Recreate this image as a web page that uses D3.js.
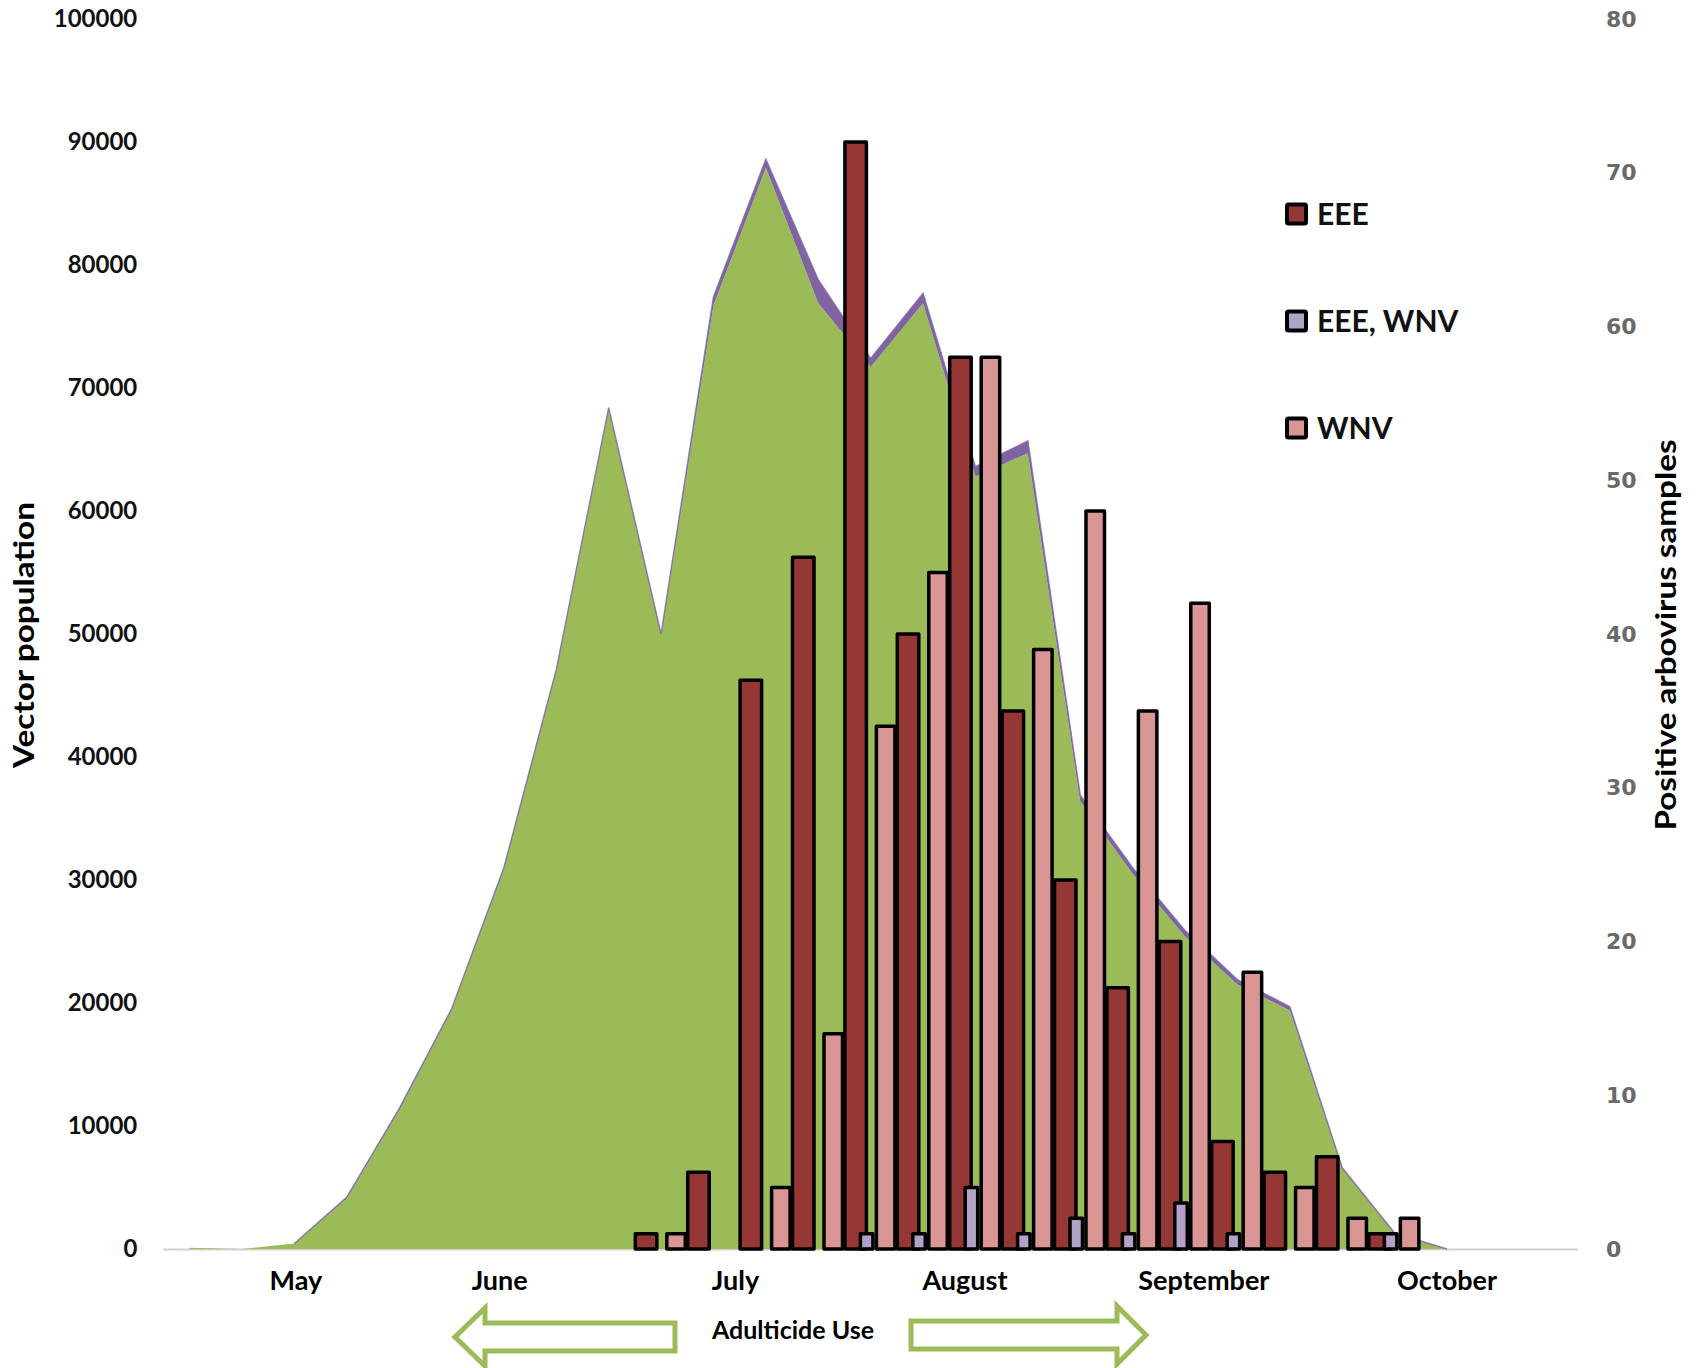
<!DOCTYPE html>
<html><head><meta charset="utf-8">
<script src="https://cdn.jsdelivr.net/npm/d3@7"></script>
<style>body{margin:0;background:#fff}svg{display:block}</style>
</head><body>
<svg id="c" width="1701" height="1368"></svg>
<script>
// ---------- DATA ----------
const weeks = ["W1","W2","W3","W4","W5","W6","W7","W8","W9","W10","W11","W12","W13","W14",
  "W15","W16","W17","W18","W19","W20","W21","W22","W23","W24","W25","W26","W27"];
// vector population (stacked area): main species + second species
const vectorMain  = [100,0,450,4100,11300,19400,30900,47000,68300,49900,76700,87900,76900,71700,
  76900,62800,64700,36400,30500,25400,21500,19400,6500,1300,0,null,null];
const vectorOther = [0,0,0,100,100,100,100,100,100,100,700,700,1900,700,
  800,800,1000,500,500,500,400,300,100,0,0,null,null];
// positive arbovirus samples
const eee    = [null,null,null,null,null,null,null,null,null,1,5,37,45,72,40,58,35,24,17,20,7,5,6,1,null,null,null];
const eeeWnv = [null,null,null,null,null,null,null,null,null,0,0,0,0,1,1,4,1,2,1,3,1,0,0,1,null,null,null];
const wnv    = [null,null,null,null,null,null,null,null,null,1,0,4,14,34,44,58,39,48,35,42,18,4,2,2,null,null,null];
const seriesNames = ["EEE","EEE, WNV","WNV"];
const leftTicks  = [0,10000,20000,30000,40000,50000,60000,70000,80000,90000,100000];
const rightTicks = [0,10,20,30,40,50,60,70,80];
const monthNames = ["May","June","July","August","September","October"];

// ---------- LAYOUT ----------
const svg = d3.select("#c");
const L = 163.3, R = 1578, T = 19, B = 1249;
const x = d3.scaleBand().domain(weeks).range([L, R]).paddingInner(0).paddingOuter(0);
const bw = x.bandwidth();
const cx = w => x(w) + bw / 2;
const yL = d3.scaleLinear().domain([0, 100000]).range([B, T]);
const yR = d3.scaleLinear().domain([0, 80]).range([B, T]);

const colors = {green:"#9BBB59", purple:"#8064A2", eee:"#953735", mix:"#B3A2C7", wnv:"#D99694"};

// baseline
svg.append("line").attr("x1", L).attr("x2", R).attr("y1", B + 0.5).attr("y2", B + 0.5)
  .attr("stroke", "#d0d0d0").attr("stroke-width", 2);

// stacked area
const rows = weeks.map((w, i) => ({w, main: vectorMain[i], other: vectorOther[i]}))
  .filter(d => d.main !== null);
const stack = d3.stack().keys(["main", "other"])(rows);
const area = d3.area().x(d => cx(d.data.w)).y0(d => yL(d[0])).y1(d => yL(d[1]));
svg.append("path").datum(stack[0]).attr("d", area).attr("fill", colors.green);
svg.append("path").datum(stack[1]).attr("d", area).attr("fill", colors.purple);
const topLine = d3.line().x(d => cx(d.data.w)).y(d => yL(d[1]));
svg.append("path").datum(stack[1].filter((d, i) => i >= 2)).attr("d", topLine)
  .attr("fill", "none").attr("stroke", colors.purple).attr("stroke-width", 1.5).attr("stroke-opacity", 0.8);

// bars (offsets relative to category centre, scaled with band width)
const k = bw / 52.41;
const barSpec = [
  {vals: eee,    fill: colors.eee, x0: -25.75, x1: -4.25},
  {vals: eeeWnv, fill: colors.mix, x0: -10.25, x1: 2.25},
  {vals: wnv,    fill: colors.wnv, x0: 5.75,  x1: 24.25}
];
barSpec.forEach(s => {
  const data = weeks.map((w, i) => ({w, v: s.vals[i]})).filter(d => d.v);
  svg.append("g").selectAll("rect").data(data).join("rect")
    .attr("x", d => cx(d.w) + s.x0 * k)
    .attr("width", (s.x1 - s.x0) * k)
    .attr("y", d => yR(d.v))
    .attr("height", d => B - yR(d.v))
    .attr("fill", s.fill).attr("stroke", "#000").attr("stroke-width", 3.5)
    .attr("stroke-linejoin", "round");
});

// axes
const gl = svg.append("g").attr("transform", `translate(${L},0)`)
  .call(d3.axisLeft(yL).tickValues(leftTicks).tickSize(0).tickPadding(26).tickFormat(d3.format("d")));
gl.select(".domain").remove();
gl.selectAll("text").attr("font-family", "Lato").attr("font-weight", 700)
  .attr("font-size", 24).attr("fill", "#111");
const gr = svg.append("g").attr("transform", `translate(${R},0)`)
  .call(d3.axisRight(yR).tickValues(rightTicks).tickSize(0).tickPadding(28).tickFormat(d3.format("d")));
gr.select(".domain").remove();
gr.selectAll("text").attr("font-family", "DejaVu Sans").attr("font-weight", 700)
  .attr("font-size", 22).attr("fill", "#6a6a6a");

// axis titles
svg.append("text").attr("transform", "translate(34,635) rotate(-90)")
  .attr("text-anchor", "middle").attr("font-family", "Lato").attr("font-weight", 700)
  .attr("font-size", 29).attr("fill", "#000")
  .attr("textLength", 266).attr("lengthAdjust", "spacingAndGlyphs")
  .text("Vector population");
svg.append("text").attr("transform", "translate(1676,635) rotate(-90)")
  .attr("text-anchor", "middle").attr("font-family", "Lato").attr("font-weight", 700)
  .attr("font-size", 29).attr("fill", "#000")
  .attr("textLength", 391).attr("lengthAdjust", "spacingAndGlyphs")
  .text("Positive arbovirus samples");

// month labels (anchored at fractional week positions)
const monthAt = [2.03, 5.92, 10.42, 14.8, 19.36, 24.0];
const monthX = d3.scaleLinear().domain([0, 1]).range([cx(weeks[0]), cx(weeks[1])]);
svg.append("g").selectAll("text").data(monthNames).join("text")
  .attr("x", (d, i) => monthX(monthAt[i])).attr("y", 1290)
  .attr("text-anchor", "middle").attr("font-family", "Lato").attr("font-weight", 700)
  .attr("font-size", 27).attr("fill", "#000").text(d => d);

// legend
const legY = [214, 321, 428];
const legFill = [colors.eee, colors.mix, colors.wnv];
const lg = svg.append("g");
seriesNames.forEach((n, i) => {
  lg.append("rect").attr("x", 1287).attr("y", legY[i] - 9.5).attr("width", 19).attr("height", 19)
    .attr("fill", legFill[i]).attr("stroke", "#000").attr("stroke-width", 4).attr("rx", 1.5);
  lg.append("text").attr("x", 1317).attr("y", legY[i] + 10.5)
    .attr("font-family", "Lato").attr("font-weight", 700).attr("font-size", 30)
    .attr("fill", "#111").text(n);
});

// adulticide arrows
const arrowL = [[455,1337],[485,1308],[485,1323],[675,1323],[675,1351],[485,1351],[485,1366]];
const arrowR = [[1146,1335],[1117,1306],[1117,1321],[911,1321],[911,1349],[1117,1349],[1117,1364]];
[arrowL, arrowR].forEach(p => svg.append("path").attr("d", d3.line()(p) + "Z")
  .attr("fill", "#fff").attr("stroke", colors.green).attr("stroke-width", 5).attr("stroke-linejoin", "miter"));
svg.append("text").attr("x", 793).attr("y", 1339).attr("text-anchor", "middle")
  .attr("font-family", "Lato").attr("font-weight", 700).attr("font-size", 25).attr("fill", "#000")
  .text("Adulticide Use");
</script>
</body></html>
